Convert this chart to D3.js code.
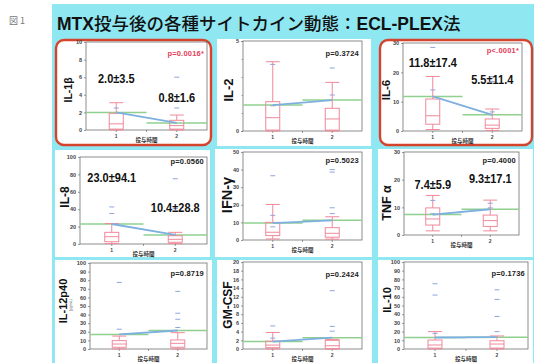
<!DOCTYPE html>
<html><head><meta charset="utf-8">
<script src="https://cdn.jsdelivr.net/npm/d3@7"></script>
<style>
html,body{margin:0;padding:0;background:#fff;}
svg{display:block;}
</style></head><body>
<svg id="chart" width="534" height="363"></svg>
<script>
// ---- data: one entry per cytokine panel, read row by row ----
const cytokines = ["IL-1β", "IL-2", "IL-6", "IL-8", "IFN-γ", "TNF α", "IL-12p40", "GM-CSF", "IL-10"];
const groups = ["1", "2"];
const yMax  = [10, 5, 30, 100, 50, 30, 100, 20, 100];
const yStep = [2, 5, 10, 20, 10, 10, 10, 2, 10];
const yMinor = [null, 1, null, null, null, null, null, null, null];
const pLabels = ["p=0.0016*", "p=0.3724", "p<.0001*", "p=0.0560", "p=0.5023", "p=0.4000", "p=0.8719", "p=0.2424", "p=0.1736"];
const significant = [true, false, true, false, false, false, false, false, false];
// group means (mean line) and SDs where the mean±SD is printed
const means = [[2.0, 0.8], [1.44, 1.72], [11.8, 5.5], [23.0, 10.4], [9.6, 11.2], [7.4, 9.3], [17.0, 21.5], [1.7, 2.6], [13.2, 13.6]];
const sds = [[3.5, 1.6], null, [17.4, 11.4], [94.1, 28.8], null, [5.9, 17.1], null, null, null];
// box stats per group: [lower whisker, q1, median, q3, upper whisker]
const boxStats = [
  [[0, 0.1, 0.7, 1.9, 3.1], [0, 0.1, 0.5, 1.1, 1.7]],
  [[0, 0.05, 0.74, 1.63, 3.85], [0, 0.05, 0.67, 1.26, 2.7]],
  [[0.5, 2.3, 5.2, 10.9, 18.6], [0.2, 0.9, 2.0, 4.1, 7.5]],
  [[0.5, 2.6, 8.4, 13.4, 23.5], [0.5, 2.0, 5.4, 9.5, 13.4]],
  [[0.6, 2.5, 4.4, 10.0, 20.2], [0.5, 1.6, 3.8, 7.0, 13.2]],
  [[1.5, 3.6, 5.8, 9.8, 14.3], [1.5, 3.1, 5.2, 7.2, 12.6]],
  [[0, 2.0, 5.8, 9.7, 15.0], [0, 2.0, 6.6, 10.5, 19.0]],
  [[0, 0.3, 0.9, 1.8, 3.8], [0, 0.05, 0.75, 2.0, 2.2]],
  [[0, 1.0, 4.6, 10.3, 20.0], [0, 1.0, 5.7, 9.5, 15.0]]
];
// individual observations shown as short dashes
const points = [
  [[2.5], [6.0, 2.5]],
  [[3.7, 1.4], [3.5, 2.0]],
  [[28.5, 14.0], [16.9, 18.5, 6.5]],
  [[35.0, 42.6], [40.8, 75.0]],
  [[36.5, 14.0, 7.5], [40.0, 38.6, 18.3, 15.0]],
  [[7.7, 12.5], [9.8, 11.5]],
  [[77.4, 23.0], [67.0, 34.6, 41.6, 25.0]],
  [[5.3, 2.5], [13.4, 4.1, 5.2]],
  [[62.0, 75.0, 18.0], [68.0, 37.4, 20.0, 57.0]]
];
const xTitle = "投与時間";
const titleParts = [["MTX", "latin"], ["投与後の各種サイトカイン動態：", "cjk"], ["ECL-PLEX", "latin"], ["法", "cjk"]];
const figLabel = "図1";

// ---- layout: panel card, plot frame, label placement ----
const layout = [
  {card: [55, 39, 212, 146], plot: [86, 42, 207, 130], labelX: 72, labelY: 90, labelSize: 10.5, pY: 56, ann: [82.5, 101.5]},
  {card: [217, 39, 371, 146], plot: [243, 41, 362, 131], labelX: 233, labelY: 90, labelSize: 13, pY: 56},
  {card: [379, 39, 533, 146], plot: [403, 43, 522, 131], labelX: 390, labelY: 90, labelSize: 11.5, pY: 53, ann: [66.5, 83.5]},
  {card: [55, 150, 210, 257], plot: [80, 157, 207, 244], labelX: 69, labelY: 197, labelSize: 12, pY: 164, ann: [181.5, 211.5]},
  {card: [215, 149, 372, 257], plot: [243, 152, 362, 240], labelX: 232, labelY: 195, labelSize: 14.5, pY: 163},
  {card: [378, 149, 533, 257], plot: [404, 152, 519, 235], labelX: 391, labelY: 203, labelSize: 12.5, pY: 163, ann: [188.5, 182.5]},
  {card: [55, 260, 212, 370], plot: [90, 263, 207, 349], labelX: 67, labelY: 301, labelSize: 11, pY: 276, unit: "(pg/mL)"},
  {card: [217, 260, 372, 370], plot: [243, 262, 362, 349], labelX: 232, labelY: 305, labelSize: 12, pY: 277},
  {card: [378, 260, 533, 370], plot: [404, 262, 528, 349], labelX: 391, labelY: 300, labelSize: 11, pY: 276}
];

const C = {
  cyan: "#8fe7f1", red: "#d6432d", box: "#f0899a", green: "#8fd08f",
  blue: "#7eb0df", pts: "#8ea4da", frame: "#707070", tick: "#444", sig: "#e2405a"
};
const latinFont = "'Liberation Sans', Arial, sans-serif";
const cjkFont = "'Noto Sans CJK JP', sans-serif";

const svg = d3.select("#chart");
svg.append("rect").attr("width", 534).attr("height", 363).attr("fill", "#fff");
svg.append("rect").attr("x", 52).attr("y", 4).attr("width", 482).attr("height", 359).attr("fill", C.cyan);

svg.append("text").attr("x", 9).attr("y", 24)
  .attr("font-family", cjkFont).attr("font-size", 9).attr("fill", "#777")
  .attr("letter-spacing", 2).text(figLabel);

const title = svg.append("text").attr("x", 57).attr("y", 30).attr("font-size", 17.5).attr("fill", "#111");
titleParts.forEach(([t, kind]) => {
  title.append("tspan").text(t)
    .attr("font-family", kind === "latin" ? latinFont : cjkFont)
    .attr("font-weight", kind === "latin" ? 700 : 500);
});

cytokines.forEach((name, i) => {
  const L = layout[i];
  const [cx0, cy0, cx1, cy1] = L.card;
  const [px0, py0, px1, py1] = L.plot;
  const g = svg.append("g");

  // card
  if (significant[i]) {
    g.append("rect").attr("x", cx0 + 1).attr("y", cy0 + 1).attr("width", cx1 - cx0 - 2).attr("height", cy1 - cy0 - 2)
      .attr("rx", 8).attr("fill", "#fff").attr("stroke", C.red).attr("stroke-width", 2.4);
  } else {
    g.append("rect").attr("x", cx0).attr("y", cy0).attr("width", cx1 - cx0).attr("height", cy1 - cy0).attr("fill", "#fff");
  }

  const y = d3.scaleLinear().domain([0, yMax[i]]).range([py1, py0]);
  const x = d3.scaleBand().domain(groups).range([px0, px1]).padding(0);
  const xc = d => x(d) + x.bandwidth() / 2;
  const bw = 14;

  // y axis
  const ticks = d3.range(0, yMax[i] + 1e-9, yStep[i]);
  const yAxis = d3.axisLeft(y).tickValues(ticks).tickSize(2).tickPadding(2).tickFormat(d3.format("d"));
  const ya = g.append("g").attr("transform", `translate(${px0},0)`).call(yAxis);
  ya.select(".domain").remove();
  ya.selectAll("line").attr("stroke", C.frame).attr("stroke-width", 0.7);
  ya.selectAll("text").attr("font-size", 5.5).attr("font-family", latinFont).attr("font-weight", 700).attr("fill", C.tick);
  if (yMinor[i]) {
    g.append("g").attr("transform", `translate(${px0},0)`)
      .call(d3.axisLeft(y).tickValues(d3.range(0, yMax[i] + 1e-9, yMinor[i])).tickSize(1.5).tickFormat(""))
      .call(s => s.select(".domain").remove())
      .selectAll("line").attr("stroke", C.frame).attr("stroke-width", 0.6);
  }

  // x axis
  const xa = g.append("g").attr("transform", `translate(0,${py1})`)
    .call(d3.axisBottom(x).tickSize(2).tickPadding(2));
  xa.select(".domain").remove();
  xa.selectAll("line").attr("stroke", C.frame).attr("stroke-width", 0.7);
  xa.selectAll("text").attr("font-size", 5).attr("font-family", latinFont).attr("font-weight", 700).attr("fill", C.tick);
  g.append("line").attr("x1", (px0 + px1) / 2).attr("x2", (px0 + px1) / 2).attr("y1", py1).attr("y2", py1 + 2)
    .attr("stroke", C.frame).attr("stroke-width", 0.7);

  // frame
  g.append("rect").attr("x", px0).attr("y", py0).attr("width", px1 - px0).attr("height", py1 - py0)
    .attr("fill", "none").attr("stroke", C.frame).attr("stroke-width", 0.8);

  // group mean reference lines (green), each over its half of the plot
  groups.forEach((grp, k) => {
    g.append("line").attr("x1", x(grp)).attr("x2", x(grp) + x.bandwidth())
      .attr("y1", y(means[i][k])).attr("y2", y(means[i][k]))
      .attr("stroke", C.green).attr("stroke-width", 1.5);
  });

  // box plots
  groups.forEach((grp, k) => {
    const [lo, q1, med, q3, hi] = boxStats[i][k];
    const c = xc(grp);
    const bg = g.append("g").attr("stroke", C.box).attr("fill", "none").attr("stroke-width", 1);
    bg.append("line").attr("x1", c).attr("x2", c).attr("y1", y(q3)).attr("y2", y(hi));
    bg.append("line").attr("x1", c).attr("x2", c).attr("y1", y(q1)).attr("y2", y(lo));
    bg.append("line").attr("x1", c - bw / 2).attr("x2", c + bw / 2).attr("y1", y(hi)).attr("y2", y(hi));
    bg.append("line").attr("x1", c - bw / 2).attr("x2", c + bw / 2).attr("y1", y(lo)).attr("y2", y(lo));
    bg.append("rect").attr("x", c - bw / 2).attr("y", y(q3)).attr("width", bw).attr("height", Math.max(0.5, y(q1) - y(q3)));
    bg.append("line").attr("x1", c - bw / 2).attr("x2", c + bw / 2).attr("y1", y(med)).attr("y2", y(med));
  });

  // observations
  groups.forEach((grp, k) => {
    g.selectAll(null).data(points[i][k]).join("line")
      .attr("x1", xc(grp) - 2.5).attr("x2", xc(grp) + 2.5)
      .attr("y1", d => y(d)).attr("y2", d => y(d))
      .attr("stroke", C.pts).attr("stroke-width", 1);
  });

  // means connecting line
  g.append("path")
    .attr("d", d3.line().x(d => xc(d[0])).y(d => y(d[1]))(groups.map((grp, k) => [grp, means[i][k]])))
    .attr("stroke", C.blue).attr("stroke-width", 1.8).attr("fill", "none");

  // y title
  g.append("text").attr("transform", `translate(${L.labelX},${L.labelY}) rotate(-90)`)
    .attr("text-anchor", "middle").attr("font-family", latinFont).attr("font-weight", 700)
    .attr("font-size", L.labelSize).attr("fill", "#111").text(name);
  if (L.unit) {
    g.append("text").attr("transform", `translate(${L.labelX + 5},${L.labelY + 4}) rotate(-90)`)
      .attr("text-anchor", "middle").attr("font-family", latinFont).attr("font-size", 3.5)
      .attr("fill", "#666").text(L.unit);
  }

  // x title
  g.append("text").attr("x", (px0 + px1) / 2).attr("y", py1 + 12).attr("text-anchor", "middle")
    .attr("font-family", cjkFont).attr("font-weight", 700).attr("font-size", 5.5).attr("fill", "#333").text(xTitle);

  // p value
  g.append("text").attr("x", px1 - 3).attr("y", L.pY).attr("text-anchor", "end")
    .attr("font-family", latinFont).attr("font-weight", 700).attr("font-size", 7.5).attr("letter-spacing", 0.2)
    .attr("fill", significant[i] ? C.sig : "#222").text(pLabels[i]);

  // mean ± SD labels
  if (sds[i]) {
    groups.forEach((grp, k) => {
      g.append("text").attr("transform", `translate(${xc(grp)},${L.ann[k]}) scale(0.88,1)`)
        .attr("text-anchor", "middle").attr("font-family", latinFont).attr("font-weight", 700)
        .attr("font-size", 12.5).attr("fill", "#111")
        .text(`${means[i][k].toFixed(1)}±${sds[i][k].toFixed(1)}`);
    });
  }
});
</script>
</body></html>
